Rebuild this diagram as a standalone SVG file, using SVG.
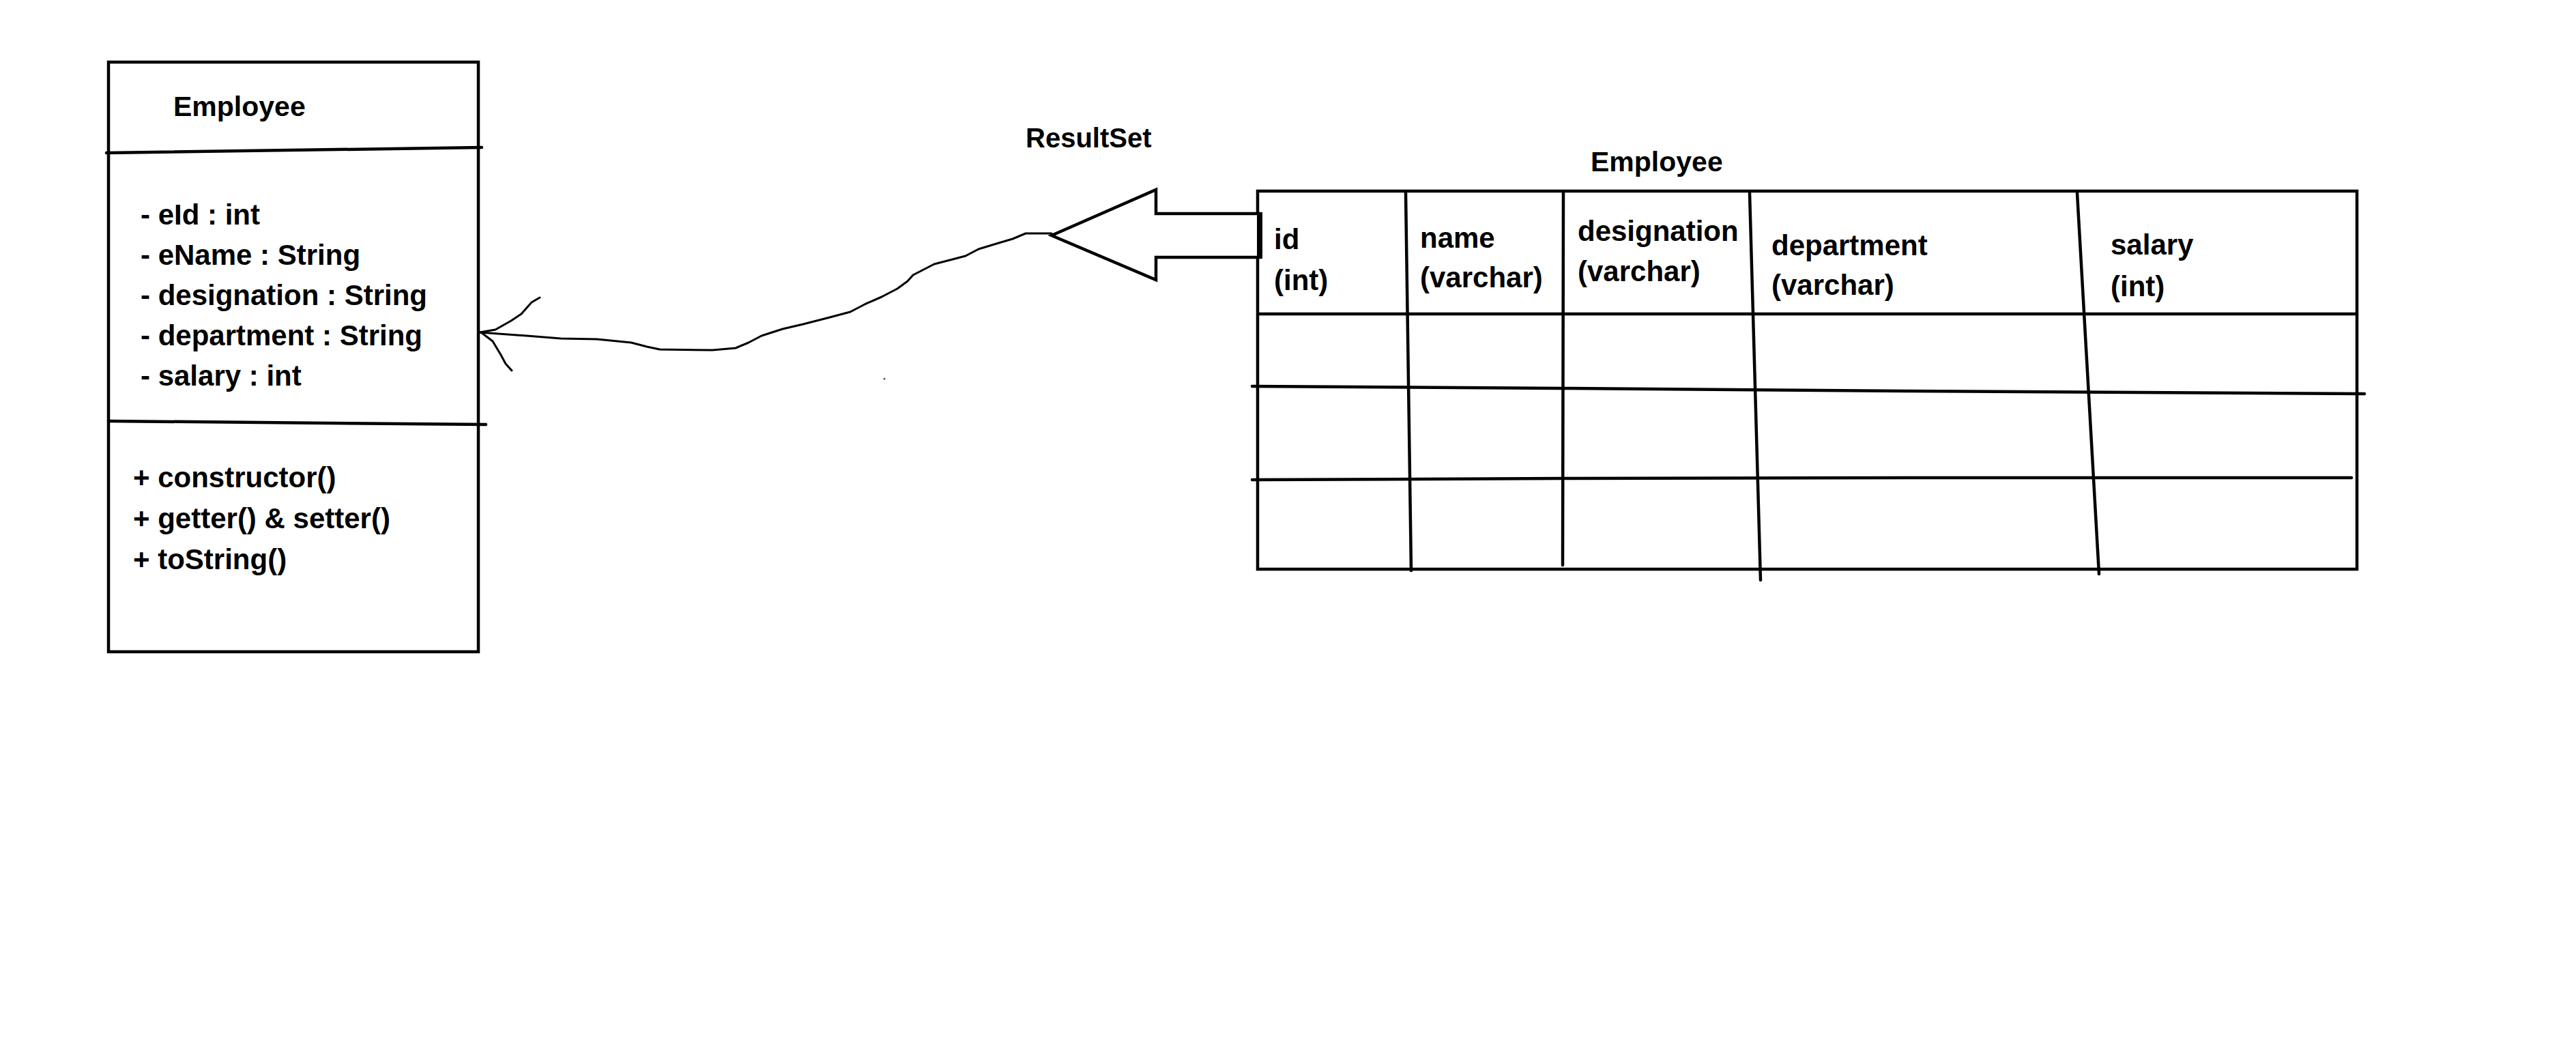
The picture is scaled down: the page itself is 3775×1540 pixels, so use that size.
<svg xmlns="http://www.w3.org/2000/svg" width="3775" height="1540" viewBox="0 0 3775 1540">
<style>
.t{font-family:"Liberation Sans",Arial,sans-serif;font-weight:bold;fill:#000}
.u{font-size:42px}
.h{font-size:42px}
.ln{stroke:#000;stroke-width:4.5;fill:none;stroke-linecap:round}
.thin{stroke:#000;stroke-width:3;fill:none;stroke-linecap:round;stroke-linejoin:round}
</style>
<rect width="3775" height="1540" fill="#fff"/>
<g id="uml-employee">
<rect x="159" y="91" width="542" height="864" class="ln"/>
<line x1="156" y1="224" x2="706" y2="216" class="ln"/>
<line x1="159" y1="617" x2="712" y2="622" class="ln"/>
<text class="t" x="254" y="170" font-size="41">Employee</text>
<text class="t u" x="206" y="329">- eId : int</text>
<text class="t u" x="206" y="388">- eName : String</text>
<text class="t u" x="206" y="447">- designation : String</text>
<text class="t u" x="206" y="506">- department : String</text>
<text class="t u" x="206" y="565">- salary : int</text>
<text class="t u" x="195" y="714">+ constructor()</text>
<text class="t u" x="195" y="774">+ getter() &amp; setter()</text>
<text class="t u" x="195" y="834">+ toString()</text>
</g>
<g id="label-resultset">
<text class="t" x="1503" y="216" font-size="40">ResultSet</text>
</g>
<g id="table-employee">
<text class="t" x="2331" y="251" font-size="41">Employee</text>
<rect x="1843" y="280" width="1611" height="554" class="ln"/>
<line x1="1843" y1="460" x2="3454" y2="460" class="ln"/>
<polyline points="1835,566 2300,569 2800,573 3465,577" class="ln"/>
<polyline points="1835,703 2300,701 2800,700 3446,700" class="ln"/>
<line x1="2060" y1="283" x2="2068" y2="836" class="ln"/>
<line x1="2291" y1="283" x2="2290" y2="828" class="ln"/>
<line x1="2564" y1="283" x2="2580" y2="850" class="ln"/>
<line x1="3044" y1="283" x2="3076" y2="841" class="ln"/>
<text class="t h" x="1867" y="365">id</text>
<text class="t h" x="1867" y="425">(int)</text>
<text class="t h" x="2081" y="363">name</text>
<text class="t h" x="2081" y="421">(varchar)</text>
<text class="t h" x="2312" y="353">designation</text>
<text class="t h" x="2312" y="412">(varchar)</text>
<text class="t h" x="2596" y="374">department</text>
<text class="t h" x="2596" y="432">(varchar)</text>
<text class="t h" x="3093" y="373">salary</text>
<text class="t h" x="3093" y="434">(int)</text>
</g>
<g id="connectors">
<polyline class="thin" stroke-width="3.5" points="703,487 772,492 822,496 875,497 925,502 948,508 967,512 1044,513 1078,510 1097,502 1116,492 1147,482 1177,475 1216,465 1246,457 1269,445 1292,435 1315,423 1330,412 1338,403 1369,387 1396,380 1415,375 1434,365 1457,358 1484,350 1503,342 1541,342"/>
<polyline class="thin" points="703,487 726,483 749,470 764,460 779,443 791,436"/>
<polyline class="thin" points="705,487 722,500 734,520 741,533 750,543"/>
<polygon points="1541,345 1694,278 1694,313 1846,313 1846,377 1694,377 1694,410" fill="#fff" stroke="#000" stroke-width="4.5" stroke-linejoin="miter"/>
<line x1="1846" y1="311" x2="1846" y2="379" stroke="#000" stroke-width="8"/>
<circle cx="1296" cy="555" r="1.5" fill="#555"/>
</g>
</svg>
